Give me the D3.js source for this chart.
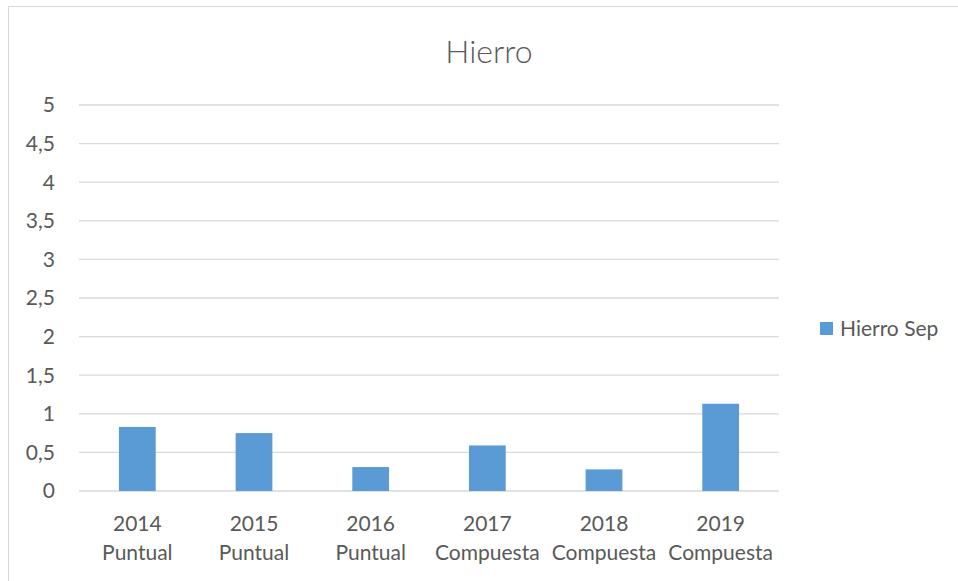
<!DOCTYPE html>
<html>
<head>
<title>Hierro</title>
<style>
  body { margin: 0; background: #fff; }
  text { font-family: Lato, "Open Sans", sans-serif; fill: #595959; }
</style>
</head>
<body>
<div id="my_dataviz"></div>
<script src="https://d3js.org/d3.v7.min.js"></script>
<script>

    // data
    var years = ["2014", "2015", "2016", "2017", "2018", "2019"];
    var kinds = ["Puntual", "Puntual", "Puntual", "Compuesta", "Compuesta", "Compuesta"];
    var values = [0.83, 0.75, 0.31, 0.59, 0.28, 1.13];
    var yTicks = [0, 0.5, 1, 1.5, 2, 2.5, 3, 3.5, 4, 4.5, 5];
    var seriesName = "Hierro Sep";

    var W = 958, H = 581;
    var margin = {top: 105, left: 79, right: 179, bottom: 90};
    var width = W - margin.left - margin.right,
        height = H - margin.top - margin.bottom;

    var svg = d3.select("#my_dataviz")
      .append("svg")
        .attr("width", W)
        .attr("height", H);

    // chart frame
    svg.append("rect")
      .attr("x", 8.5).attr("y", 6.5)
      .attr("width", W).attr("height", H)
      .attr("fill", "none")
      .attr("stroke", "#d9d9d9");

    svg.append("text")
      .attr("x", 489).attr("y", 63)
      .attr("text-anchor", "middle")
      .style("font-size", "32px")
      .style("font-weight", 300)
      .text("Hierro");

    var g = svg.append("g")
      .attr("transform", "translate(" + margin.left + "," + margin.top + ")");

    var x = d3.scaleBand().domain(years).range([0, width]).padding(0);
    var y = d3.scaleLinear().domain([0, 5]).range([height, 0]);

    // gridlines
    g.selectAll(".grid")
      .data(yTicks)
      .enter().append("line")
        .attr("x1", 0).attr("x2", width)
        .attr("y1", function(d) { return y(d); })
        .attr("y2", function(d) { return y(d); })
        .attr("stroke", "#d9d9d9")
        .attr("stroke-width", 1.3);

    // y labels
    var fmt = function(d) { return String(d).replace(".", ","); };
    g.selectAll(".ylab")
      .data(yTicks)
      .enter().append("text")
        .attr("x", -24)
        .attr("y", function(d) { return y(d); })
        .attr("dy", "0.35em")
        .attr("text-anchor", "end")
        .style("font-size", "21px")
        .text(fmt);

    // bars
    var bw = x.bandwidth() * 0.315;
    g.selectAll(".bar")
      .data(values)
      .enter().append("rect")
        .attr("x", function(d, i) { return x(years[i]) + x.bandwidth() / 2 - bw / 2; })
        .attr("y", function(d) { return y(d); })
        .attr("width", bw)
        .attr("height", function(d) { return y(0) - y(d); })
        .attr("fill", "#5b9bd5");

    // x labels, two lines
    var xl = g.selectAll(".xlab")
      .data(years)
      .enter().append("text")
        .attr("text-anchor", "middle")
        .style("font-size", "21px")
        .attr("transform", function(d) { return "translate(" + (x(d) + x.bandwidth() / 2) + "," + (height + 40) + ")"; });
    xl.append("tspan").attr("x", 0).attr("y", 0).text(function(d) { return d; });
    xl.append("tspan").attr("x", 0).attr("y", 29).text(function(d, i) { return kinds[i]; });

    // legend
    var leg = svg.append("g").attr("transform", "translate(820,322)");
    leg.append("rect").attr("width", 13).attr("height", 13).attr("fill", "#5b9bd5");
    leg.append("text").attr("x", 20).attr("y", 7).attr("dy", "0.35em")
      .style("font-size", "21px").text(seriesName);

</script>
</body>
</html>
